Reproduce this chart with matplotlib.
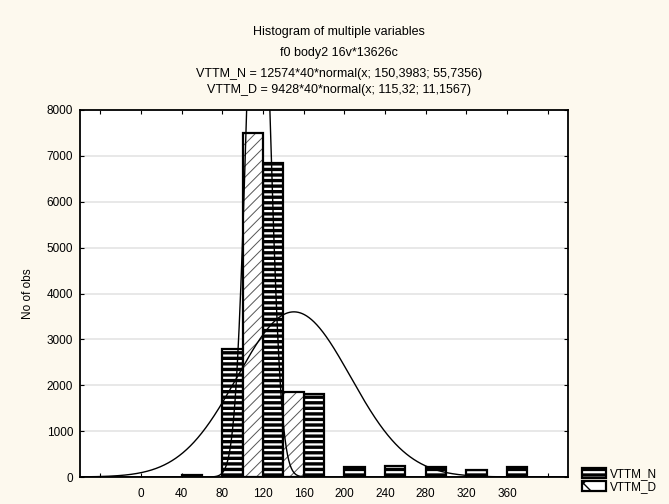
import numpy as np
import matplotlib.pyplot as plt
from matplotlib.patches import Patch

plt.rcParams['font.family'] = ['Liberation Sans', 'DejaVu Sans']

# bins of width 40, left edges
bin_left = [40, 80, 120, 160, 200, 240, 280, 320, 360]
vttm_n = [40, 2790, 6850, 1800, 220, 250, 210, 150, 220]
vttm_d = [0, 7500, 1850, 0, 0, 0, 0, 0, 0]

# fitted normal curves (from the chart header)
n_total, n_mean, n_sd = 12574, 150.3983, 55.7356
d_total, d_mean, d_sd = 9428, 115.32, 11.1567
bin_w = 40

xticks = np.arange(-40, 401, 40)
xlabels = ['' if (t < 0 or t > 360) else str(t) for t in xticks]
yticks = np.arange(0, 8001, 1000)

bg = '#fdf9ee'


def hatch_lw(patches, lw):
    for p in patches:
        if hasattr(p, 'set_hatch_linewidth'):
            p.set_hatch_linewidth(lw)


fig = plt.figure(figsize=(6.69, 5.04), dpi=100, facecolor=bg)
ax = fig.add_axes([80/669, 1 - 477/504, 488/669, 367/504])
ax.set_facecolor('white')

left = np.array(bin_left)
# VTTM_N: thick black horizontal stripes
nb = ax.bar(left, vttm_n, width=20, align='edge', color='white',
            edgecolor='black', hatch='---', linewidth=1.6, zorder=3)
hatch_lw(nb, 2.4)

# VTTM_D: thin grey diagonal hatch + black frame
d = np.array(vttm_d)
m = d > 0
db = ax.bar(left[m] + 20, d[m], width=20, align='edge', color='white',
            edgecolor='#555555', hatch='///', linewidth=0, zorder=3)
hatch_lw(db, 0.7)
ax.bar(left[m] + 20, d[m], width=20, align='edge', fill=False,
       edgecolor='black', linewidth=1.6, zorder=4)

x = np.linspace(-60, 420, 1200)
def normal(x, mu, sd):
    return np.exp(-0.5 * ((x - mu) / sd) ** 2) / (sd * np.sqrt(2 * np.pi))

ax.plot(x, n_total * bin_w * normal(x, n_mean, n_sd), color='black', lw=1.0, zorder=5)
ax.plot(x, d_total * bin_w * normal(x, d_mean, d_sd), color='black', lw=1.0, zorder=5)

ax.set_xlim(-60, 420)
ax.set_ylim(0, 8000)
ax.set_xticks(xticks)
ax.set_xticklabels(xlabels)
ax.set_yticks(yticks)
ax.yaxis.grid(True, color='#e4e4e4', lw=1.2, zorder=0)
ax.set_axisbelow(True)
ax.tick_params(direction='in', top=True, right=True, length=3, width=0.8,
               labelsize=8.5, pad=5)
ax.tick_params(axis='x', pad=8)
for s in ax.spines.values():
    s.set_linewidth(1.3)
ax.set_ylabel('No of obs', fontsize=8.5, labelpad=9)

tx = 339 / 669
fig.text(tx, 1 - 32/504, 'Histogram of multiple variables', ha='center', va='center', fontsize=9)
fig.text(tx, 1 - 53/504, 'f0 body2 16v*13626c', ha='center', va='center', fontsize=9)
fig.text(tx, 1 - 74/504, 'VTTM_N = 12574*40*normal(x; 150,3983; 55,7356)',
         ha='center', va='center', fontsize=9)
fig.text(tx, 1 - 90/504, 'VTTM_D = 9428*40*normal(x; 115,32; 11,1567)',
         ha='center', va='center', fontsize=9)

handles = [Patch(facecolor='white', edgecolor='black', hatch='---', lw=1.6, label='VTTM_N'),
           Patch(facecolor='white', edgecolor='black', hatch='x', lw=1.6, label='VTTM_D')]
leg = fig.legend(handles=handles, loc='lower left', bbox_to_anchor=(576/669, 5/504),
                 frameon=False, fontsize=8.5, handlelength=2.0, handleheight=0.95,
                 handletextpad=0.4, labelspacing=0.1, borderpad=0)
hatch_lw(leg.get_patches()[:1], 2.4)

fig.savefig('out.png', dpi=100, facecolor=bg)
